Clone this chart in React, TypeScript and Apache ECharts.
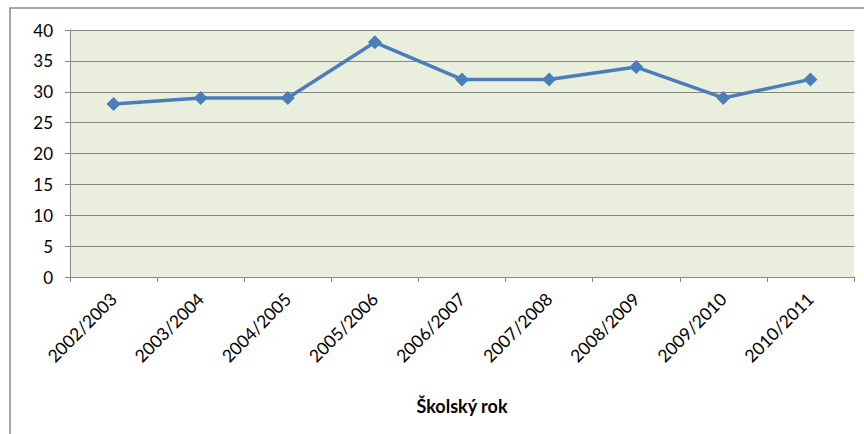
import React, { useEffect, useRef } from "react";
import * as echarts from "echarts";

const categories = [
  "2002/2003",
  "2003/2004",
  "2004/2005",
  "2005/2006",
  "2006/2007",
  "2007/2008",
  "2008/2009",
  "2009/2010",
  "2010/2011",
];
const values = [28, 29, 29, 38, 32, 32, 34, 29, 32];
const axisTitle = "Školský rok";

export default function App() {
  const ref = useRef<HTMLDivElement>(null);
  useEffect(() => {
    if (!ref.current) return;
    const chart = echarts.init(ref.current, null, { renderer: "svg" });
    chart.setOption({
      animation: false,
      backgroundColor: "#ffffff",
      textStyle: { fontFamily: "Lato" },
      graphic: [
        {
          type: "rect",
          shape: { x: 10, y: 8, width: 880, height: 460 },
          style: { fill: "none", stroke: "#8a8a8a", lineWidth: 1.5 },
          z: 0,
        },
      ],
      grid: {
        left: 70,
        top: 30,
        right: 10,
        bottom: 157,
        show: true,
        backgroundColor: "#eaeedd",
        borderWidth: 0,
      },
      xAxis: {
        type: "category",
        data: categories,
        boundaryGap: true,
        name: axisTitle,
        nameLocation: "middle",
        nameGap: 120,
        nameTextStyle: {
          fontFamily: "Lato",
          fontWeight: "bold",
          fontSize: 18,
          color: "#000",
        },
        axisLine: { show: true, lineStyle: { color: "#868686", width: 1 } },
        axisTick: {
          show: true,
          alignWithLabel: false,
          length: 5,
          lineStyle: { color: "#868686" },
        },
        axisLabel: {
          rotate: 45,
          margin: 19,
          fontSize: 17.5,
          color: "#000",
          fontFamily: "Lato",
        },
        splitLine: { show: false },
      },
      yAxis: {
        type: "value",
        min: 0,
        max: 40,
        interval: 5,
        axisLine: { show: true, lineStyle: { color: "#868686", width: 1 } },
        axisTick: { show: true, length: 5, lineStyle: { color: "#868686" } },
        axisLabel: {
          margin: 17,
          fontSize: 17,
          color: "#000",
          fontFamily: "Lato",
        },
        splitLine: { show: true, lineStyle: { color: "#868686", width: 1 } },
      },
      series: [
        {
          type: "line",
          data: values,
          symbol: "diamond",
          symbolSize: 14,
          lineStyle: { color: "#4a7ebb", width: 3.5 },
          itemStyle: { color: "#4a7ebb" },
        },
      ],
    });
    return () => chart.dispose();
  }, []);
  return (
    <div
      ref={ref}
      style={{ position: "fixed", left: 0, top: 0, width: 864, height: 434 }}
    />
  );
}
